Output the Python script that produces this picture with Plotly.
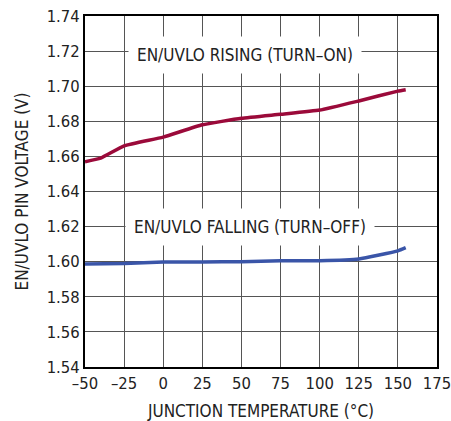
import plotly.graph_objects as go

temp_rising = [-50, -40, -25, 0, 25, 50, 75, 100, 125, 150, 155]
v_rising = [1.657, 1.659, 1.666, 1.671, 1.678, 1.6817, 1.684, 1.6864, 1.6916, 1.6972, 1.698]

temp_falling = [-50, -25, 0, 25, 50, 75, 100, 125, 150, 155]
v_falling = [1.5987, 1.5990, 1.5998, 1.5999, 1.6000, 1.6005, 1.6006, 1.6016, 1.6062, 1.6080]

x_ticks = [-50, -25, 0, 25, 50, 75, 100, 125, 150, 175]
x_ticktext = ["–50", "–25", "0", "25", "50", "75", "100", "125", "150", "175"]
y_ticks = [1.54, 1.56, 1.58, 1.60, 1.62, 1.64, 1.66, 1.68, 1.70, 1.72, 1.74]
y_ticktext = ["%.2f" % v for v in y_ticks]

FONT = "DejaVu Sans Condensed"
TXT = "#222"

fig = go.Figure()
fig.add_trace(go.Scatter(x=temp_rising, y=v_rising, mode="lines",
                         line=dict(color="#9b0a3a", width=3.5, shape="spline", smoothing=0.4),
                         showlegend=False, hoverinfo="skip"))
fig.add_trace(go.Scatter(x=temp_falling, y=v_falling, mode="lines",
                         line=dict(color="#3a55a8", width=3.5, shape="spline", smoothing=0.4),
                         showlegend=False, hoverinfo="skip"))

fig.add_annotation(x=52.5, y=1.7175, text="EN/UVLO RISING (TURN–ON)", showarrow=False,
                   bgcolor="white", borderpad=8, font=dict(size=17, color=TXT, family=FONT))
fig.add_annotation(x=55.5, y=1.6198, text="EN/UVLO FALLING (TURN–OFF)", showarrow=False,
                   bgcolor="white", borderpad=8, font=dict(size=17, color=TXT, family=FONT))

axis_common = dict(showgrid=True, gridcolor="#555", gridwidth=1, zeroline=False,
                   showline=True, linecolor="black", linewidth=2, mirror=True,
                   ticks="", ticklabeloverflow="allow", automargin=False,
                   tickfont=dict(size=16.5, color=TXT, family=FONT))

fig.update_xaxes(range=[-50, 175], tickvals=x_ticks, ticktext=x_ticktext,
                 title=dict(text="JUNCTION TEMPERATURE (°C)", font=dict(size=17, color=TXT, family=FONT), standoff=13),
                 **axis_common)
fig.update_yaxes(range=[1.54, 1.74], tickvals=y_ticks, ticktext=y_ticktext,
                 title=dict(text="EN/UVLO PIN VOLTAGE (V)", font=dict(size=17, color=TXT, family=FONT), standoff=14),
                 **axis_common)

fig.update_layout(width=451, height=421, margin=dict(l=85, r=14, t=16, b=54),
                  plot_bgcolor="white", paper_bgcolor="white")

fig.write_html("out.html", config={"displayModeBar": False},
               post_script="document.body.style.margin='0';document.body.style.overflow='hidden';")
